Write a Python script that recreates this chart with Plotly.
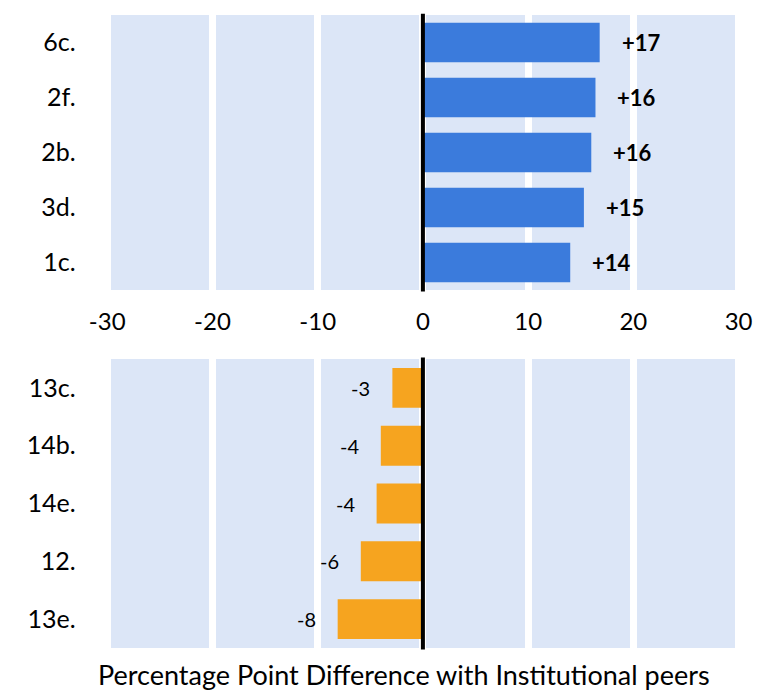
import plotly.graph_objects as go
from plotly.subplots import make_subplots

# Items above institutional peers (percentage points)
top_items = ["6c.", "2f.", "2b.", "3d.", "1c."]
top_values = [16.8, 16.4, 16.0, 15.3, 14.0]

# Items below institutional peers (percentage points)
bottom_items = ["13c.", "14b.", "14e.", "12.", "13e."]
bottom_values = [-2.9, -4.0, -4.4, -5.9, -8.1]

x_ticks = [-30, -20, -10, 0, 10, 20, 30]
x_tick_text = ["-30", "-20", "-10", "0", "10", "20", "30"]
x_title = "Percentage Point Difference with Institutional peers"

BLUE = "#3b7bdc"
ORANGE = "#f6a41f"
PANEL = "#dce6f7"
FONT = "Lato"

fig = make_subplots(rows=2, cols=1, vertical_spacing=0.1)

fig.add_trace(go.Bar(x=top_values, y=top_items, orientation="h",
                     marker=dict(color=BLUE, line_width=0), width=0.72,
                     showlegend=False, hoverinfo="x+y"), row=1, col=1)
fig.add_trace(go.Bar(x=bottom_values, y=bottom_items, orientation="h",
                     marker=dict(color=ORANGE, line_width=0), width=0.69,
                     showlegend=False, hoverinfo="x+y"), row=2, col=1)

def fmt(v):
    r = int(round(v))
    return f"+{r}" if r > 0 else f"{r}"

# value labels, placed by category index so names like "12." stay categorical
annotations = []
for i, v in enumerate(top_values):
    annotations.append(dict(x=v, y=i, xref="x", yref="y", text=fmt(v),
                            showarrow=False, xanchor="left", xshift=20,
                            font=dict(family=FONT, size=22, color="black", weight="bold")))
for i, v in enumerate(bottom_values):
    annotations.append(dict(x=v, y=i, xref="x2", yref="y2", text=fmt(v),
                            showarrow=False, xanchor="right", xshift=-20,
                            font=dict(family=FONT, size=20, color="black")))
annotations.append(dict(x=402 / 760, y=-0.002, xref="paper", yref="paper",
                        text=x_title, showarrow=False, xanchor="center", yanchor="bottom",
                        font=dict(family=FONT, size=27, color="black")))

shapes = []
for xr, yr in (("x", "y"), ("x2", "y2")):
    # pale panel behind the gridlines
    shapes.append(dict(type="rect", xref=xr, yref=f"{yr} domain", x0=-29.8, x1=30.2,
                       y0=0, y1=1, fillcolor=PANEL, line_width=0, layer="below"))
    # zero reference line on top of the bars
    shapes.append(dict(type="line", xref=xr, yref=f"{yr} domain", x0=0, x1=0,
                       y0=-0.005, y1=1.005, line=dict(color="black", width=4), layer="above"))

axis_common = dict(range=[-31, 31], tickvals=x_ticks, ticktext=x_tick_text,
                   showgrid=True, gridcolor="white",
                   gridwidth=7, zeroline=False, showline=False, ticks="",
                   domain=[90 / 760, 752 / 760],
                   tickfont=dict(family=FONT, size=24, color="black"))

yaxis_common = dict(type="category", range=[4.5, -0.5], autorange=False, showgrid=False,
                    zeroline=False, ticks="", ticklabelstandoff=20,
                    tickfont=dict(family=FONT, size=25, color="black"))

fig.update_layout(
    width=760, height=692,
    margin=dict(l=0, r=0, t=0, b=0),
    paper_bgcolor="white", plot_bgcolor="white",
    bargap=0.28,
    annotations=annotations, shapes=shapes,
    xaxis=dict(**axis_common, showticklabels=True, ticklabelstandoff=15),
    xaxis2=dict(**axis_common, showticklabels=False),
    yaxis=dict(**yaxis_common, categoryorder="array", categoryarray=top_items,
               domain=[1 - 290 / 692, 1 - 15 / 692]),
    yaxis2=dict(**yaxis_common, categoryorder="array", categoryarray=bottom_items,
                domain=[1 - 648 / 692, 1 - 359 / 692]),
)

fig.write_html("out.html")
